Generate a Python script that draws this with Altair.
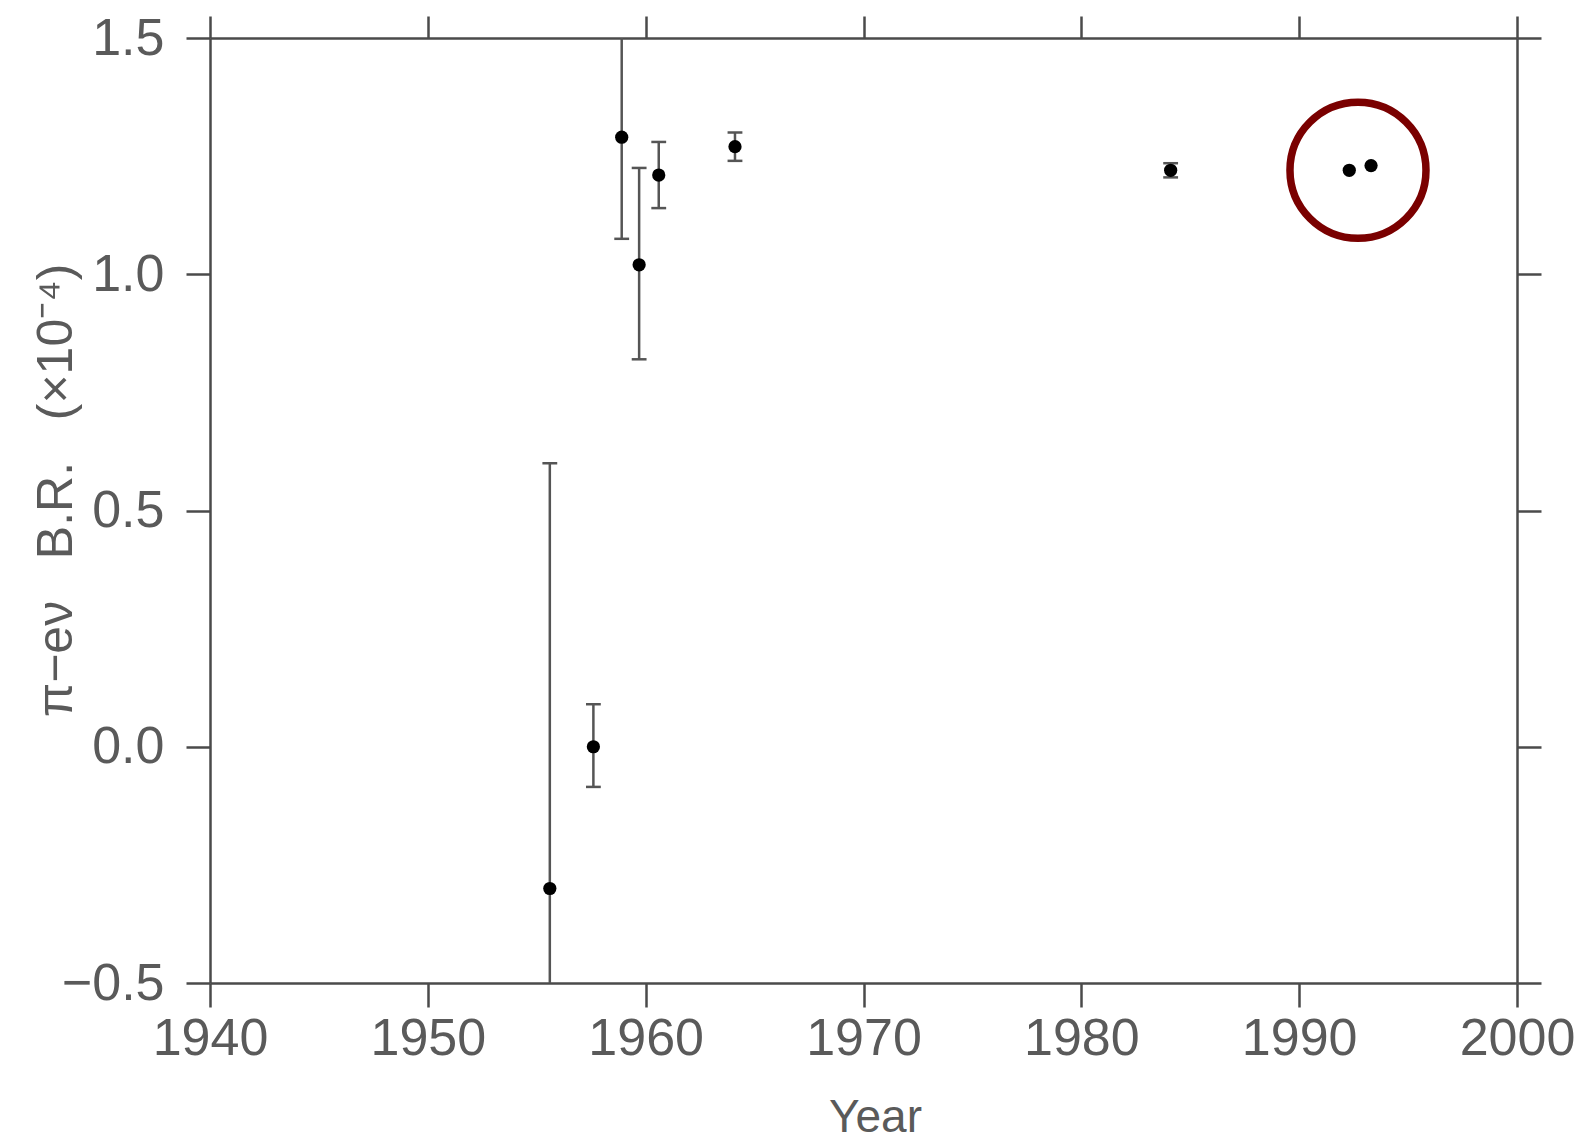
import altair as alt
import pandas as pd

# --- data ---
years = [1955.6, 1957.6, 1958.9, 1959.7, 1960.6, 1964.1, 1984.1, 1992.3, 1993.3]
br = [-0.30, 0.00, 1.29, 1.02, 1.21, 1.27, 1.22, 1.22, 1.23]
err_low = [-1.20, -0.085, 1.075, 0.82, 1.14, 1.24, 1.205, None, None]
err_high = [0.60, 0.09, 1.51, 1.225, 1.28, 1.30, 1.235, None, None]

circle_year = [1992.7]
circle_br = [1.22]

x_ticks = [1940, 1950, 1960, 1970, 1980, 1990, 2000]
y_ticks = [-0.5, 0.0, 0.5, 1.0, 1.5]

df = pd.DataFrame({"year": years, "br": br, "low": err_low, "high": err_high})
df_err = df.dropna()
df_circle = pd.DataFrame({"year": circle_year, "br": circle_br})

FONT = "Liberation Sans"
AX_COLOR = "#4a4a4a"
LBL_COLOR = "#5a5a5a"

xscale = alt.Scale(domain=[1940, 2000], nice=False, zero=False)
yscale = alt.Scale(domain=[-0.5, 1.5], nice=False, zero=False)

common_axis = dict(
    grid=False,
    domainColor=AX_COLOR,
    domainWidth=2.5,
    tickColor=AX_COLOR,
    tickWidth=2.5,
    labelFont=FONT,
    labelColor=LBL_COLOR,
    labelFontSize=52,
    titleFont=FONT,
    titleColor=LBL_COLOR,
    titleFontWeight="normal",
)

x_axis_bottom = alt.Axis(
    values=x_ticks, format="d", orient="bottom", labelPadding=6, tickSize=24,
    title="Year", titleFontSize=46, titleX=665, titleY=134,
    titleAlign="center", titleBaseline="middle", labelFlush=False,
    **common_axis,
)
y_axis_left = alt.Axis(
    values=y_ticks, format=".1f", orient="left", labelPadding=22, tickSize=24,
    title="π−eν\u00a0\u00a0\u00a0B.R.\u00a0\u00a0\u00a0(×10⁻⁴)", titleFontSize=50,
    titleAngle=-90, titleX=-154, titleY=452,
    titleAlign="center", titleBaseline="middle", labelFlush=False,
    **common_axis,
)

ERR_COLOR = "#555555"

rules = alt.Chart(df_err).mark_rule(color=ERR_COLOR, strokeWidth=2.5, clip=True).encode(
    x=alt.X("year:Q", scale=xscale, axis=x_axis_bottom),
    y=alt.Y("low:Q", scale=yscale, axis=y_axis_left),
    y2="high:Q",
)

caps_low = alt.Chart(df_err).mark_point(
    shape="stroke", size=220, strokeWidth=2.5, color=ERR_COLOR, opacity=1, clip=True
).encode(x=alt.X("year:Q", scale=xscale), y=alt.Y("low:Q", scale=yscale))

caps_high = alt.Chart(df_err).mark_point(
    shape="stroke", size=220, strokeWidth=2.5, color=ERR_COLOR, opacity=1, clip=True
).encode(x=alt.X("year:Q", scale=xscale), y=alt.Y("high:Q", scale=yscale))

dots = alt.Chart(df).mark_circle(size=175, color="black", opacity=1).encode(
    x=alt.X("year:Q", scale=xscale), y=alt.Y("br:Q", scale=yscale)
)

ring = alt.Chart(df_circle).mark_point(
    shape="circle", filled=False, size=18500, strokeWidth=7.5, color="#7a0000", opacity=1
).encode(x=alt.X("year:Q", scale=xscale), y=alt.Y("br:Q", scale=yscale))

main = alt.layer(rules, caps_low, caps_high, dots, ring)

frame = alt.Chart(df).mark_point(opacity=0).encode(
    x=alt.X(
        "year:Q", scale=xscale,
        axis=alt.Axis(values=x_ticks, orient="top", labels=False, title="",
                      tickSize=22, **common_axis),
    ),
    y=alt.Y(
        "br:Q", scale=yscale,
        axis=alt.Axis(values=y_ticks, orient="right", labels=False, title="",
                      tickSize=24, **common_axis),
    ),
)

chart = (
    alt.layer(main, frame)
    .resolve_axis(x="independent", y="independent")
    .properties(
        width=1307,
        height=945,
        autosize=alt.AutoSizeParams(type="none"),
        padding={"left": 210, "top": 38, "right": 70, "bottom": 163},
        background="white",
    )
    .configure_view(stroke=None)
)

chart.save("out.html", embed_options={"renderer": "svg", "actions": False})
